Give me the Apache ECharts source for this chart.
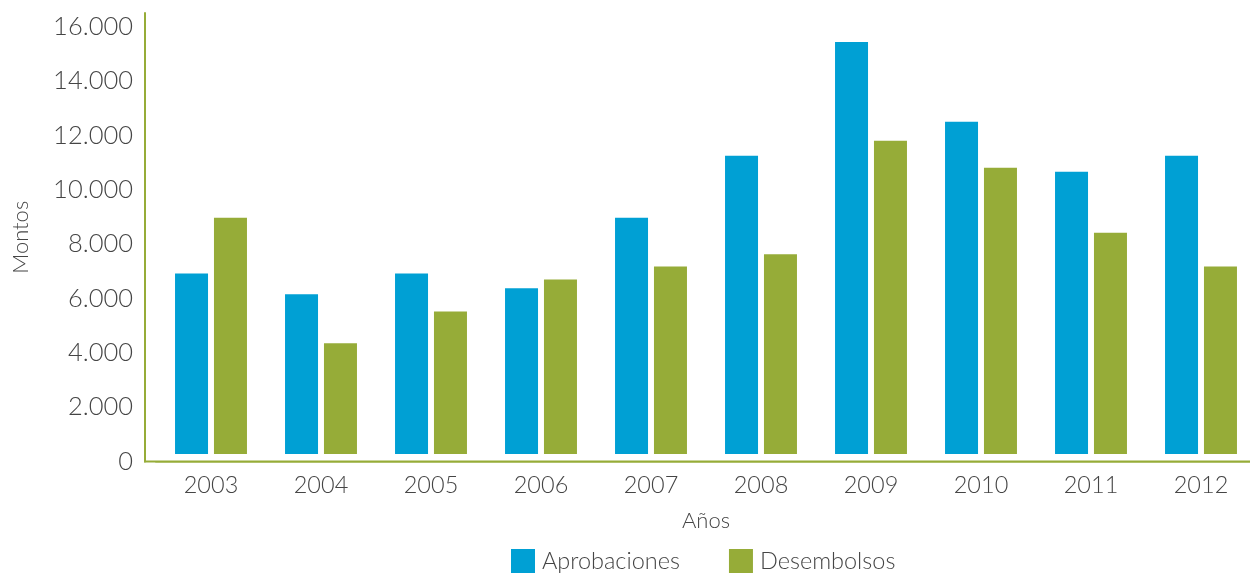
<!DOCTYPE html>
<html>
<head>
<meta charset="utf-8">
<script src="https://cdn.jsdelivr.net/npm/echarts@6/dist/echarts.min.js"></script>
<style>
html,body{margin:0;padding:0;background:#fff;}
#c{width:1250px;height:573px;}
</style>
</head>
<body>
<div id="c"></div>
<script>
const years = ['2003','2004','2005','2006','2007','2008','2009','2010','2011','2012'];
const aprobaciones = [6920, 6150, 6920, 6370, 8970, 11250, 15430, 12500, 10660, 11250];
const desembolsos = [8970, 4350, 5520, 6700, 7170, 7620, 11800, 10810, 8420, 7170];
const yTicks = [0, 2000, 4000, 6000, 8000, 10000, 12000, 14000, 16000];

const FONT = 'Lato';
const TXT = '#454545';
const BLUE = '#00a0d4';
const GREEN = '#96ac38';

const chart = echarts.init(document.getElementById('c'), null, {renderer: 'canvas'});
function fmt(v){ return String(v).replace(/\B(?=(\d{3})+(?!\d))/g, '.'); }

chart.setOption({
  animation: false,
  textStyle: {fontFamily: FONT},
  grid: {left: 156, right: -6, top: 13, bottom: 111.5, containLabel: false, outerBoundsMode: 'none'},
  legend: {
    left: 511, top: 549, padding: 0,
    itemWidth: 24, itemHeight: 24, itemGap: 49,
    icon: 'rect',
    textStyle: {fontFamily: FONT, fontSize: 23.5, color: TXT, fontWeight: 300, padding: [0,0,0,2]},
    data: ['Aprobaciones', 'Desembolsos']
  },
  xAxis: {
    type: 'category',
    data: years,
    name: 'Años',
    nameLocation: 'middle',
    nameGap: 48,
    nameTextStyle: {fontFamily: FONT, fontSize: 22, color: TXT, fontWeight: 300},
    axisLine: {lineStyle: {color: GREEN, width: 2}},
    axisTick: {show: false},
    axisLabel: {fontFamily: FONT, fontSize: 23.5, color: TXT, fontWeight: 300, margin: 12}
  },
  yAxis: {
    type: 'value',
    min: 0, max: 16500, interval: 2000,
    offset: 11,
    name: 'Montos',
    nameLocation: 'middle',
    nameGap: 113,
    nameTextStyle: {fontFamily: FONT, fontSize: 22, color: TXT, fontWeight: 300},
    axisLine: {show: true, lineStyle: {color: GREEN, width: 2}},
    axisTick: {show: false},
    splitLine: {show: false},
    axisLabel: {fontFamily: FONT, fontSize: 25.5, color: TXT, fontWeight: 300, margin: 12, showMaxLabel: false,
      formatter: function(v){ return yTicks.indexOf(v) >= 0 ? fmt(v) : ''; }}
  },
  series: [
    {name: 'Aprobaciones', type: 'bar', data: aprobaciones, barWidth: 33, barGap: '18%', itemStyle: {color: BLUE}},
    {name: 'Desembolsos', type: 'bar', data: desembolsos, barWidth: 33, barGap: '18%', itemStyle: {color: GREEN}}
  ]
});

// decorative: small white gap between bars and baseline, and the baseline drawn across from the y axis
const y0 = chart.convertToPixel({yAxisIndex: 0}, 0);
chart.setOption({
  graphic: [
    {type: 'rect', z: 100, silent: true, shape: {x: 147, y: y0 - 7.5, width: 1110, height: 8.5}, style: {fill: '#fff'}},
    {type: 'line', z: 101, silent: true, shape: {x1: 144, y1: y0, x2: 1250, y2: y0}, style: {stroke: GREEN, lineWidth: 2}}
  ]
});
</script>
</body>
</html>
